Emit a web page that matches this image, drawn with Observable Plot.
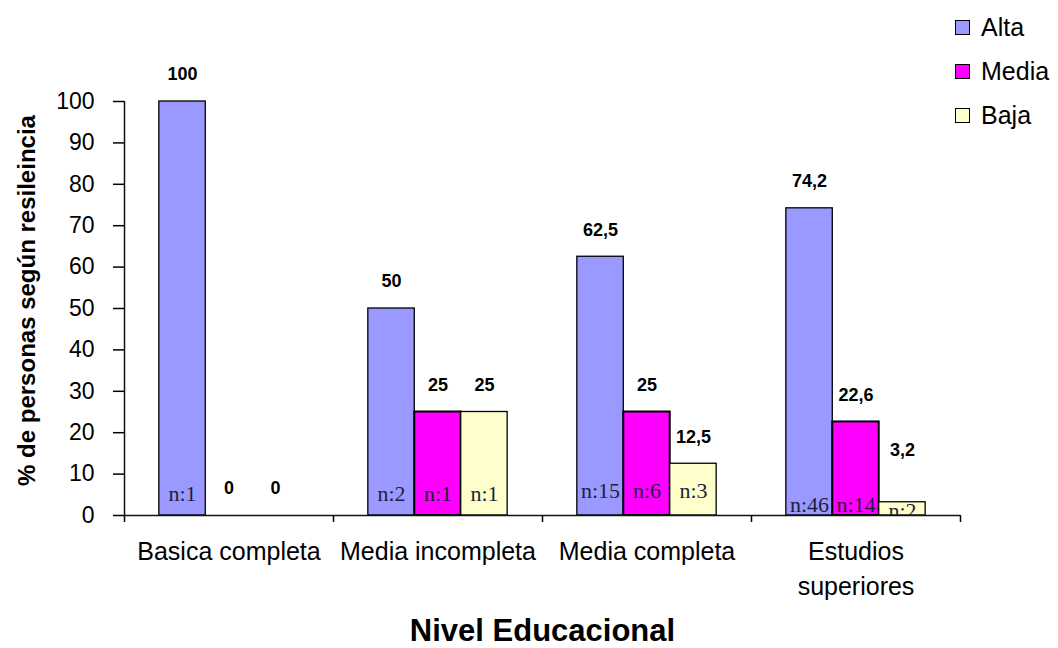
<!DOCTYPE html>
<html>
<head>
<meta charset="utf-8">
<script src="https://cdn.jsdelivr.net/npm/d3@7"></script>
<script src="https://cdn.jsdelivr.net/npm/@observablehq/plot@0.6"></script>
<style>
  body { margin: 0; background: #fff; }
  #chart { position: relative; width: 1058px; height: 648px; }
  .legend { position: absolute; left: 955px; top: 5px; font: 25px "Liberation Sans", Arial, sans-serif; color: #000; }
  .legend .row { display: flex; align-items: center; height: 44px; }
  .legend .sw { width: 13px; height: 13px; border: 1.5px solid #000; margin-right: 11px; }
</style>
</head>
<body>
<div id="chart"></div>
<script>
// Porcentaje de personas según resiliencia, por nivel educacional
const categories = ["Basica completa", "Media incompleta", "Media completa", "Estudios superiores"];
const categoryLabels = ["Basica completa", "Media incompleta", "Media completa", "Estudios\nsuperiores"];
const levels = ["Alta", "Media", "Baja"];
const alta = [100, 50, 62.5, 74.2];
const media = [0, 25, 25, 22.6];
const baja = [0, 25, 12.5, 3.2];
const nAlta = [1, 2, 15, 46];
const nMedia = [null, 1, 6, 14];
const nBaja = [null, 1, 3, 2];
const yTicks = [0, 10, 20, 30, 40, 50, 60, 70, 80, 90, 100];
const colors = ["#9999FF", "#FF00FF", "#FFFFCC"];
const yTitle = "% de personas según resileincia";
const xTitle = "Nivel Educacional";

const values = {Alta: alta, Media: media, Baja: baja};
const counts = {Alta: nAlta, Media: nMedia, Baja: nBaja};
const rows = categories.flatMap((cat, i) =>
  levels.map((level, j) => ({cat, i, level, j, value: values[level][i], n: counts[level][i]}))
);

// Each category occupies one unit on x; three touching bars with a 150% gap split on both sides.
const GAP = 1.5, SLOTS = levels.length + GAP;
const barStart = d => d.i + (GAP / 2 + d.j) / SLOTS;
const barEnd = d => d.i + (GAP / 2 + d.j + 1) / SLOTS;
const barMid = d => d.i + (GAP / 2 + d.j + 0.5) / SLOTS;

// Hand-placed label nudges (pixels)
const valueNudge = {"Estudios superiores|Baja": -25};
const nNudge = {
  "Basica completa": -22, "Media incompleta": -22, "Media completa": -25, "Estudios superiores": -11
};
const nNudgeBar = {"Estudios superiores|Baja": 6};

const fmt = v => String(v).replace(".", ",");

const plot = Plot.plot({
  width: 1058,
  height: 648,
  marginLeft: 124,
  marginRight: 98,
  marginTop: 101,
  marginBottom: 133,
  style: {
    fontFamily: '"Liberation Sans", Arial, sans-serif',
    fontSize: "23px",
    color: "#000",
    background: "#fff",
    overflow: "visible"
  },
  x: {domain: [0, categories.length]},
  y: {domain: [0, 100]},
  color: {domain: levels, range: colors},
  marks: [
    Plot.rectY(rows.filter(d => d.value > 0), {
      x1: barStart, x2: barEnd, y: "value",
      fill: "level", stroke: "#000",
      strokeWidth: d => d.level === "Media" ? 2 : 1.3
    }),
    Plot.ruleY([0], {stroke: "#111", strokeWidth: 1.5}),
    Plot.ruleX([0], {stroke: "#111", strokeWidth: 1.5}),
    Plot.axisY({ticks: yTicks, tickSize: 11, tickPadding: 19, fontSize: 23, label: null, strokeWidth: 1.5}),
    Plot.axisX({ticks: d3.range(categories.length + 1), tickSize: 7, tickFormat: () => "", label: null, strokeWidth: 1.5}),
    Plot.text(categoryLabels, {
      x: (d, i) => i + 0.5, y: () => 0, dy: 20,
      lineAnchor: "top", lineHeight: 1.4, fontSize: 25
    }),
    // value labels above each bar
    Plot.text(rows, {
      x: barMid, y: "value", text: d => fmt(d.value),
      lineAnchor: "middle", dy: -27, fontWeight: "bold", fontSize: 18
    }),
    // sample sizes inside the bars
    Plot.text(rows.filter(d => d.n != null), {
      x: barMid, y: () => 0, text: d => "n:" + d.n,
      lineAnchor: "middle", fontFamily: '"Liberation Serif", "Times New Roman", serif',
      fontSize: 22, fill: "#1e1e3c", clip: true
    }),
    Plot.text([yTitle], {
      frameAnchor: "left", textAnchor: "middle", rotate: -90, dx: -97, dy: -8,
      fontWeight: "bold", fontSize: 24
    }),
    Plot.text([xTitle], {
      frameAnchor: "bottom", dy: 116, lineAnchor: "middle",
      fontWeight: "bold", fontSize: 31
    })
  ]
});

// apply per-label nudges on the value and sample-size labels
const svg = d3.select(plot);
const textGroups = svg.selectAll("g[aria-label='text']").nodes();
const valueGroup = textGroups[1];
const nGroup = textGroups[2];
const withN = rows.filter(d => d.n != null);
d3.select(valueGroup).selectAll("text").each(function(_, k) {
  const d = rows[k];
  const extra = valueNudge[d.cat + "|" + d.level] || 0;
  if (extra) this.setAttribute("transform", this.getAttribute("transform") + ` translate(0,${extra})`);
});
d3.select(nGroup).selectAll("text").each(function(_, k) {
  const d = withN[k];
  const off = nNudge[d.cat] + (nNudgeBar[d.cat + "|" + d.level] || 0);
  this.setAttribute("transform", this.getAttribute("transform") + ` translate(0,${off})`);
});

const chart = document.getElementById("chart");
chart.appendChild(plot);

const legend = document.createElement("div");
legend.className = "legend";
levels.forEach((level, j) => {
  const row = document.createElement("div");
  row.className = "row";
  const sw = document.createElement("span");
  sw.className = "sw";
  sw.style.background = colors[j];
  const label = document.createElement("span");
  label.textContent = level;
  row.append(sw, label);
  legend.appendChild(row);
});
chart.appendChild(legend);
</script>
</body>
</html>
